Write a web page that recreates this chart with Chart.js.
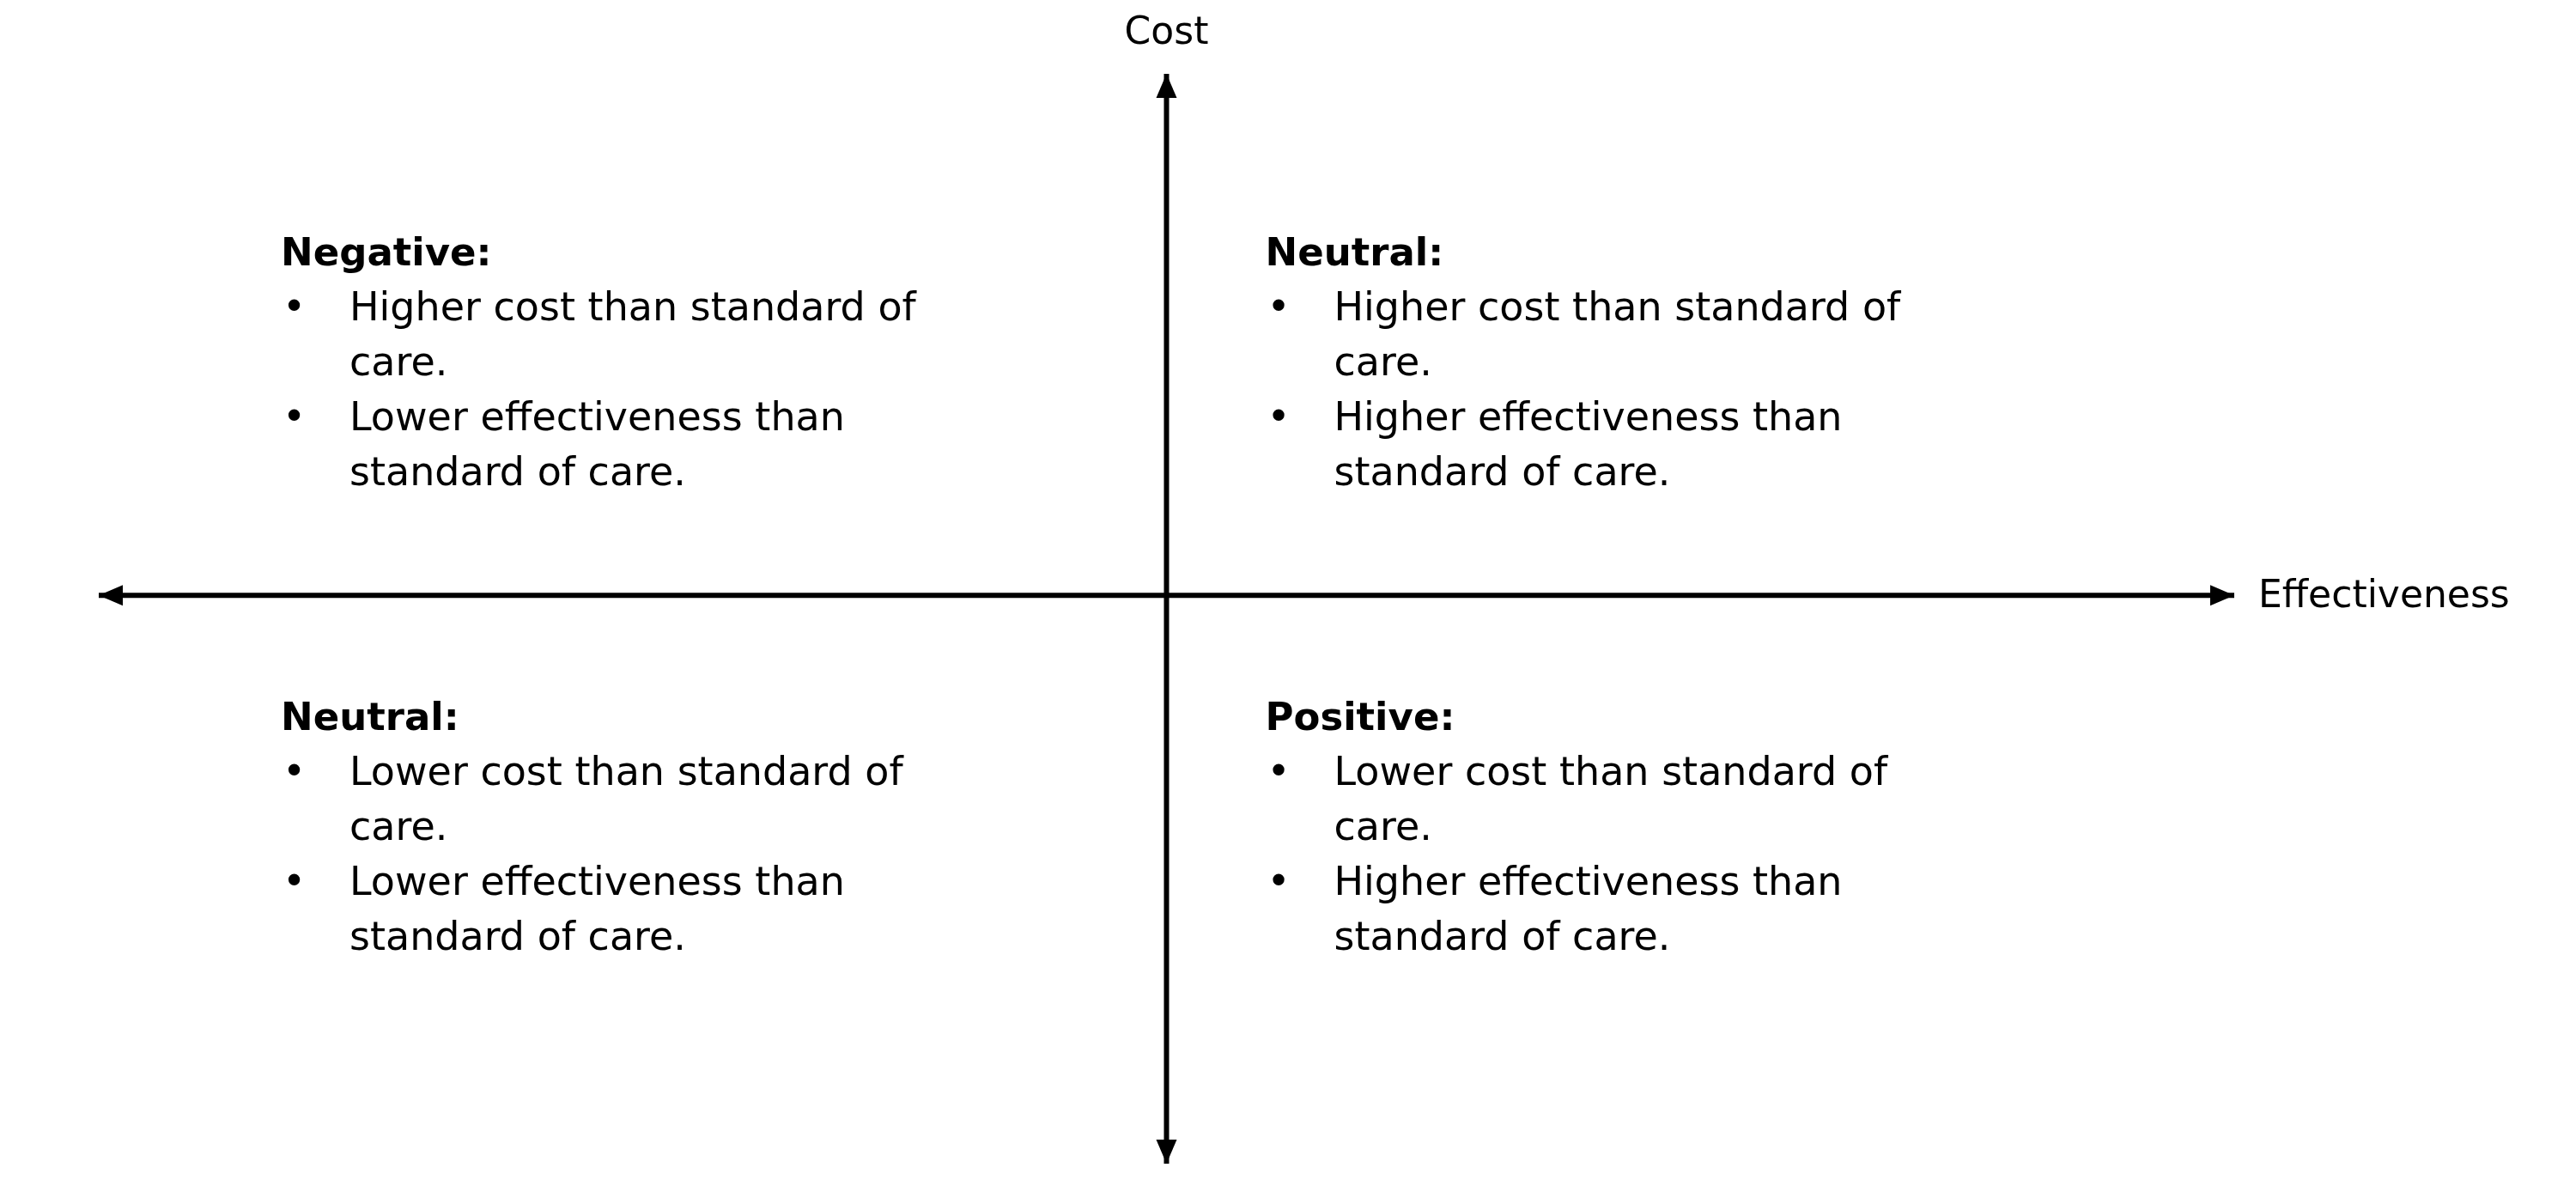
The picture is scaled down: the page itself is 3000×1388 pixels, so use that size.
<!DOCTYPE html>
<html>
<head>
<meta charset="utf-8">
<script src="https://cdn.jsdelivr.net/npm/chart.js@4"></script>
<style>
  html, body { margin: 0; padding: 0; background: #fff; }
  #wrap { width: 3000px; height: 1388px; }
</style>
</head>
<body>
<div id="wrap"><canvas id="quadChart" width="3000" height="1388"></canvas></div>
<script>
// Axis titles
const xAxisTitle = 'Effectiveness';
const yAxisTitle = 'Cost';

// Quadrant contents: top-left, top-right, bottom-left, bottom-right
const quadrantTitles = ['Negative:', 'Neutral:', 'Neutral:', 'Positive:'];
const quadrantBullets = [
  [['Higher cost than standard of', 'care.'], ['Lower effectiveness than', 'standard of care.']],
  [['Higher cost than standard of', 'care.'], ['Higher effectiveness than', 'standard of care.']],
  [['Lower cost than standard of', 'care.'], ['Lower effectiveness than', 'standard of care.']],
  [['Lower cost than standard of', 'care.'], ['Higher effectiveness than', 'standard of care.']]
];

// Axis lines (data coords)
const xAxisLine = [{ x: -1, y: 0 }, { x: 1, y: 0 }];
const yAxisLine = [{ x: 0, y: -1.09 }, { x: 0, y: 1 }];

const FONT = '"DejaVu Sans", sans-serif';

// Plugin: arrowheads, axis titles and quadrant text
const quadrantPlugin = {
  id: 'quadrantText',
  afterDatasetsDraw(chart) {
    const ctx = chart.ctx;
    const xs = chart.scales.x, ys = chart.scales.y;
    const x0 = xs.getPixelForValue(0), y0 = ys.getPixelForValue(0);
    const left = xs.getPixelForValue(-1), right = xs.getPixelForValue(1);
    const top = ys.getPixelForValue(1), bottom = ys.getPixelForValue(-1.09);
    const ah = 28, aw = 12;

    ctx.save();
    ctx.fillStyle = '#000';
    // arrowheads
    const tri = (pts) => { ctx.beginPath(); ctx.moveTo(pts[0], pts[1]); ctx.lineTo(pts[2], pts[3]); ctx.lineTo(pts[4], pts[5]); ctx.closePath(); ctx.fill(); };
    tri([right, y0, right - ah, y0 - aw, right - ah, y0 + aw]);
    tri([left, y0, left + ah, y0 - aw, left + ah, y0 + aw]);
    tri([x0, top, x0 - aw, top + ah, x0 + aw, top + ah]);
    tri([x0, bottom, x0 - aw, bottom - ah, x0 + aw, bottom - ah]);

    // axis titles
    ctx.font = '44px ' + FONT;
    ctx.textBaseline = 'middle';
    ctx.textAlign = 'center';
    ctx.fillText(yAxisTitle, x0, 40);
    ctx.textAlign = 'left';
    ctx.fillText(xAxisTitle, right + 28, y0 + 2);

    // quadrant text
    const anchors = [
      [left + 212, top + 211], [x0 + 115, top + 211],
      [left + 212, y0 + 145], [x0 + 115, y0 + 145]
    ];
    const lh = 64;
    quadrantTitles.forEach((title, i) => {
      const [ax, ay] = anchors[i];
      ctx.textAlign = 'left';
      ctx.font = 'bold 45px ' + FONT;
      ctx.fillText(title, ax, ay);
      ctx.font = '46px ' + FONT;
      let line = 1;
      quadrantBullets[i].forEach(b => {
        ctx.fillText('•', ax + 2, ay + line * lh);
        b.forEach(t => { ctx.fillText(t, ax + 80, ay + line * lh); line++; });
      });
    });
    ctx.restore();
  }
};

new Chart(document.getElementById('quadChart'), {
  type: 'scatter',
  data: {
    datasets: [
      { data: xAxisLine, showLine: true, borderColor: '#000', borderWidth: 6, pointRadius: 0 },
      { data: yAxisLine, showLine: true, borderColor: '#000', borderWidth: 6, pointRadius: 0 }
    ]
  },
  options: {
    responsive: false,
    animation: false,
    layout: { padding: { left: 115, right: 398, top: 86, bottom: 33 } },
    plugins: { legend: { display: false }, tooltip: { enabled: false } },
    scales: {
      x: { display: false, min: -1, max: 1 },
      y: { display: false, min: -1.09, max: 1 }
    }
  },
  plugins: [quadrantPlugin]
});
</script>
</body>
</html>
